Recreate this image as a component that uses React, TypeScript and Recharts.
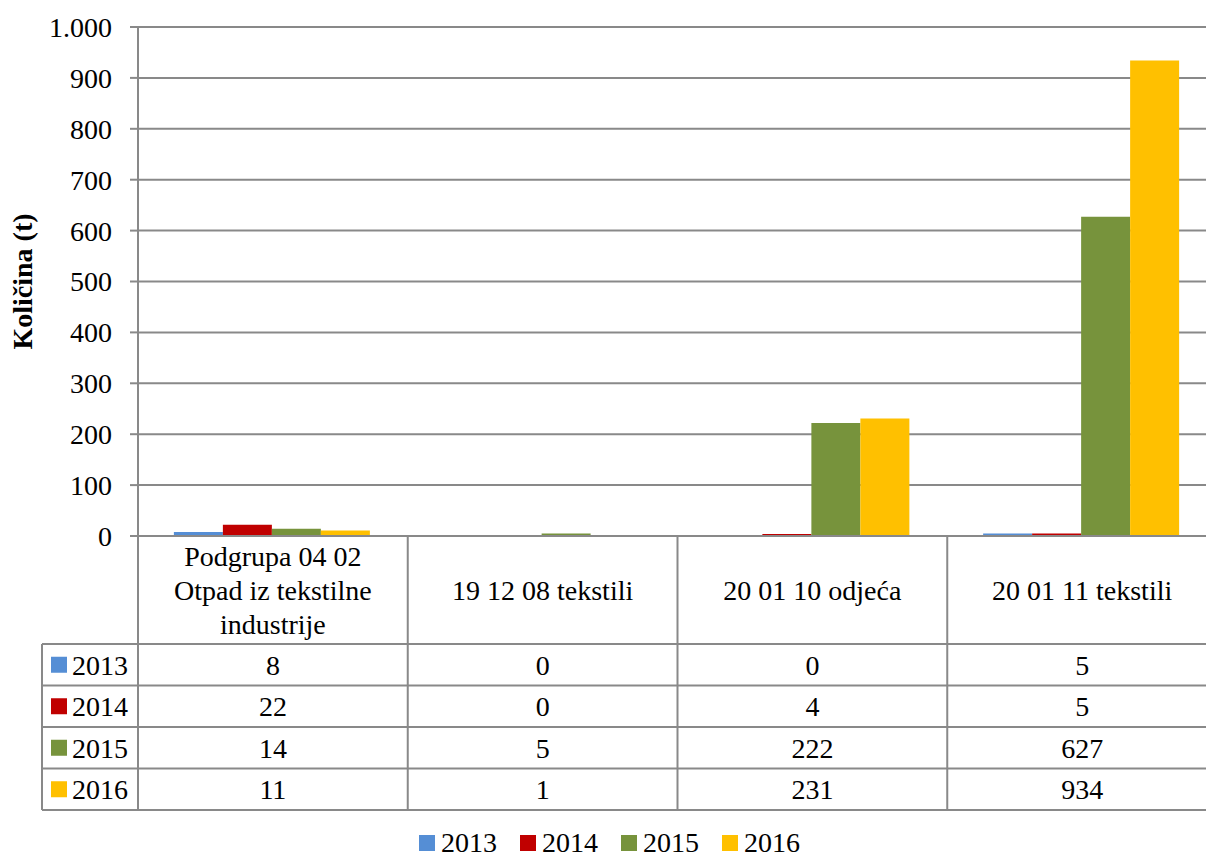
import { BarChart, Bar, XAxis, YAxis, CartesianGrid } from "recharts";

const categories = [
  "Podgrupa 04 02 Otpad iz tekstilne industrije",
  "19 12 08 tekstili",
  "20 01 10 odjeća",
  "20 01 11 tekstili",
];
const headerLines = [
  ["Podgrupa 04 02", "Otpad iz tekstilne", "industrije"],
  ["19 12 08 tekstili"],
  ["20 01 10 odjeća"],
  ["20 01 11 tekstili"],
];
const years = ["2013", "2014", "2015", "2016"];
const colors = ["#558ED5", "#C00000", "#77933C", "#FFC000"];
const v2013 = [8, 0, 0, 5];
const v2014 = [22, 0, 4, 5];
const v2015 = [14, 5, 222, 627];
const v2016 = [11, 1, 231, 934];
const yTicks = [0, 100, 200, 300, 400, 500, 600, 700, 800, 900, 1000];

const series = [v2013, v2014, v2015, v2016];
const data = categories.map((c, i) => ({
  cat: c,
  y2013: v2013[i],
  y2014: v2014[i],
  y2015: v2015[i],
  y2016: v2016[i],
}));

const W = 1220;
const H = 860;
const M = { top: 27, right: 3, left: 0, bottom: 50 };
const Y_W = 138;
const X_H = 274;
const PLOT_BOTTOM = H - M.bottom - X_H;
const BAND = (W - M.left - M.right - Y_W) / categories.length;
const HEAD_BOTTOM = 644;
const ROW_H = 41.5;
const TABLE_LEFT = 42;
const GRAY = "#898989";
const FONT = "Liberation Serif, Tinos, Times New Roman, serif";
const FS = 28;

const TableTick = (props: any) => {
  const { x, index } = props;
  const left = x - BAND / 2;
  const right = x + BAND / 2;
  const lines = headerLines[index];
  const tableBottom = HEAD_BOTTOM + ROW_H * years.length;
  const headCenter = (PLOT_BOTTOM + HEAD_BOTTOM) / 2;
  const lh = 34;
  return (
    <g style={{ fontFamily: FONT }} fontSize={FS} fill="#000">
      {index === 0 && (
        <g>
          <line x1={left} y1={PLOT_BOTTOM} x2={left} y2={tableBottom} stroke={GRAY} strokeWidth={2} />
          <line x1={TABLE_LEFT} y1={HEAD_BOTTOM} x2={TABLE_LEFT} y2={tableBottom} stroke={GRAY} strokeWidth={2} />
          {years.map((yr, r) => (
            <line key={"h" + r} x1={TABLE_LEFT} y1={HEAD_BOTTOM + ROW_H * r} x2={W} y2={HEAD_BOTTOM + ROW_H * r} stroke={GRAY} strokeWidth={2} />
          ))}
          <line x1={TABLE_LEFT} y1={tableBottom} x2={W} y2={tableBottom} stroke={GRAY} strokeWidth={2} />
          {years.map((yr, r) => {
            const cy = HEAD_BOTTOM + ROW_H * r + ROW_H / 2;
            return (
              <g key={"l" + r}>
                <rect x={51} y={cy - 8} width={16} height={16} fill={colors[r]} />
                <text x={72} y={cy} dy="0.35em" textAnchor="start">{yr}</text>
              </g>
            );
          })}
        </g>
      )}
      <line x1={right} y1={PLOT_BOTTOM} x2={right} y2={tableBottom} stroke={GRAY} strokeWidth={2} />
      {lines.map((t, k) => (
        <text key={k} x={x} y={headCenter + (k - (lines.length - 1) / 2) * lh} dy="0.35em" textAnchor="middle">
          {t}
        </text>
      ))}
      {series.map((s, r) => (
        <text key={"v" + r} x={x} y={HEAD_BOTTOM + ROW_H * r + ROW_H / 2} dy="0.35em" textAnchor="middle">
          {s[index]}
        </text>
      ))}
    </g>
  );
};

const YLabel = () => (
  <text
    x={22}
    y={(M.top + PLOT_BOTTOM) / 2}
    transform={`rotate(-90, 22, ${(M.top + PLOT_BOTTOM) / 2})`}
    dy="0.35em"
    textAnchor="middle"
    style={{ fontFamily: FONT }}
    fontSize={FS}
    fontWeight="bold"
    fill="#000"
  >
    Količina (t)
  </text>
);

export default function App() {
  return (
    <div style={{ position: "fixed", left: 0, top: 0, width: 1206, height: 860, overflow: "hidden", background: "#fff", fontFamily: FONT }}>
      <BarChart width={W} height={H} data={data} margin={M} barCategoryGap="13.3%" barGap={0} style={{ fontFamily: FONT }}>
        <CartesianGrid horizontal vertical={false} stroke={GRAY} strokeWidth={2} />
        <XAxis
          dataKey="cat"
          height={X_H}
          interval={0}
          tickLine={false}
          axisLine={{ stroke: GRAY, strokeWidth: 2 }}
          tick={<TableTick />}
        />
        <YAxis
          width={Y_W}
          domain={[0, 1000]}
          ticks={yTicks}
          interval={0}
          tickSize={8}
          tickMargin={18}
          tickLine={{ stroke: GRAY, strokeWidth: 2 }}
          axisLine={{ stroke: GRAY, strokeWidth: 2 }}
          tick={{ fontFamily: FONT, fontSize: FS, fill: "#000" }}
          tickFormatter={(v: number) => v.toLocaleString("de-DE")}
          label={<YLabel />}
        />
        {years.map((yr, i) => (
          <Bar key={yr} dataKey={"y" + yr} name={yr} fill={colors[i]} isAnimationActive={false} />
        ))}
      </BarChart>
      <div
        style={{
          position: "absolute",
          left: 419,
          top: 827,
          height: 32,
          display: "flex",
          alignItems: "center",
          fontSize: FS,
          lineHeight: "32px",
        }}
      >
        {years.map((yr, i) => (
          <div key={yr} style={{ display: "flex", alignItems: "center", marginRight: 23 }}>
            <span style={{ width: 16, height: 16, background: colors[i], marginRight: 6, display: "inline-block" }} />
            <span>{yr}</span>
          </div>
        ))}
      </div>
    </div>
  );
}
